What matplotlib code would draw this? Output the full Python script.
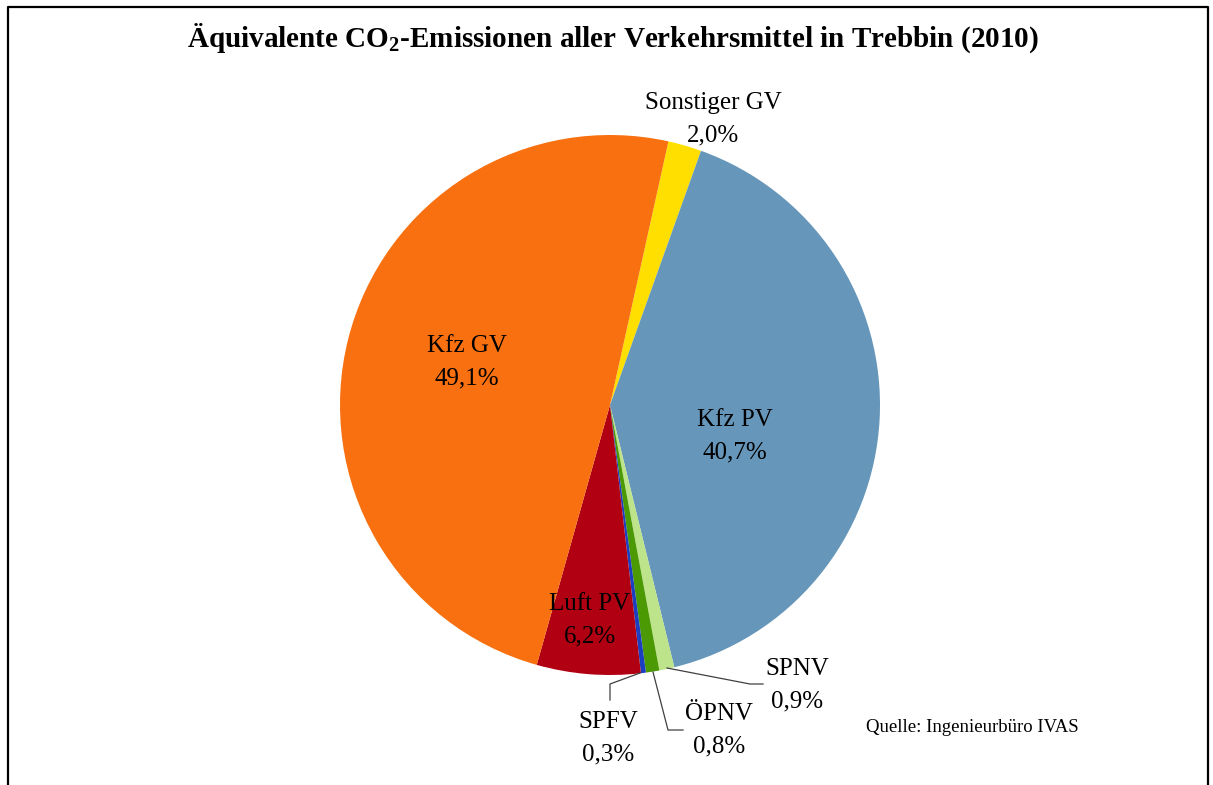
import matplotlib
matplotlib.use('Agg')
import matplotlib.pyplot as plt

plt.rcParams['font.family'] = ['Liberation Serif', 'DejaVu Serif']
plt.rcParams['mathtext.fontset'] = 'custom'
plt.rcParams['mathtext.rm'] = 'Liberation Serif'
plt.rcParams['mathtext.bf'] = 'Liberation Serif:bold'

# Anteile in Prozent, im Uhrzeigersinn ab "Sonstiger GV"
categories = ['Sonstiger GV', 'Kfz PV', 'SPNV', 'ÖPNV', 'SPFV', 'Luft PV', 'Kfz GV']
shares = [2.0, 40.7, 0.9, 0.8, 0.3, 6.2, 49.1]
colors = ['#FFDF00', '#6696B9', '#BDE38B', '#4B9A04', '#1C3FBF', '#B00012', '#F8700F']

W, H = 1213, 785
fig = plt.figure(figsize=(W / 100, H / 100), dpi=100)
ax = fig.add_axes([0, 0, 1, 1])

cx, cy, r = 610, H - 405, 270
ax.pie(shares, colors=colors, startangle=77.5, counterclock=False,
       center=(cx, cy), radius=r, wedgeprops=dict(linewidth=0))
ax.set_xlim(0, W)
ax.set_ylim(0, H)
ax.set_aspect('equal')
ax.axis('off')


def pct(v):
    return f'{v:.1f}'.replace('.', ',') + '%'


# label positions in pixel coords (x, y from top)
label_pos = {
    'Sonstiger GV': (713, 119),
    'Kfz PV': (735, 436),
    'SPNV': (797, 685),
    'ÖPNV': (719, 730),
    'SPFV': (608, 738),
    'Luft PV': (590, 620),
    'Kfz GV': (467, 362),
}
for name, val in zip(categories, shares):
    px, py = label_pos[name]
    ax.text(px, H - py, f'{name}\n{pct(val)}', ha='center', va='center',
            fontsize=18, linespacing=1.6, color='black')

# leader lines
leaders = [
    [(640, 673), (610, 684), (610, 700)],
    [(653, 672), (668, 730), (683, 730)],
    [(667, 668), (750, 684), (763, 684)],
]
for pts in leaders:
    xs = [p[0] for p in pts]
    ys = [H - p[1] for p in pts]
    ax.plot(xs, ys, color='#404040', lw=0.9)

ax.text(613, H - 38,
        'Äquivalente CO$_\\mathbf{2}$-Emissionen aller Verkehrsmittel in Trebbin (2010)',
        ha='center', va='center', fontsize=21, fontweight='bold')
ax.text(972, H - 727, 'Quelle: Ingenieurbüro IVAS', ha='center', va='center',
        fontsize=13.5)

# outer frame (no bottom edge visible)
ax.plot([8, 8, 1208, 1208], [0, H - 7, H - 7, 0], color='black', lw=1.6,
        clip_on=False)

fig.savefig('out.png', dpi=100)
